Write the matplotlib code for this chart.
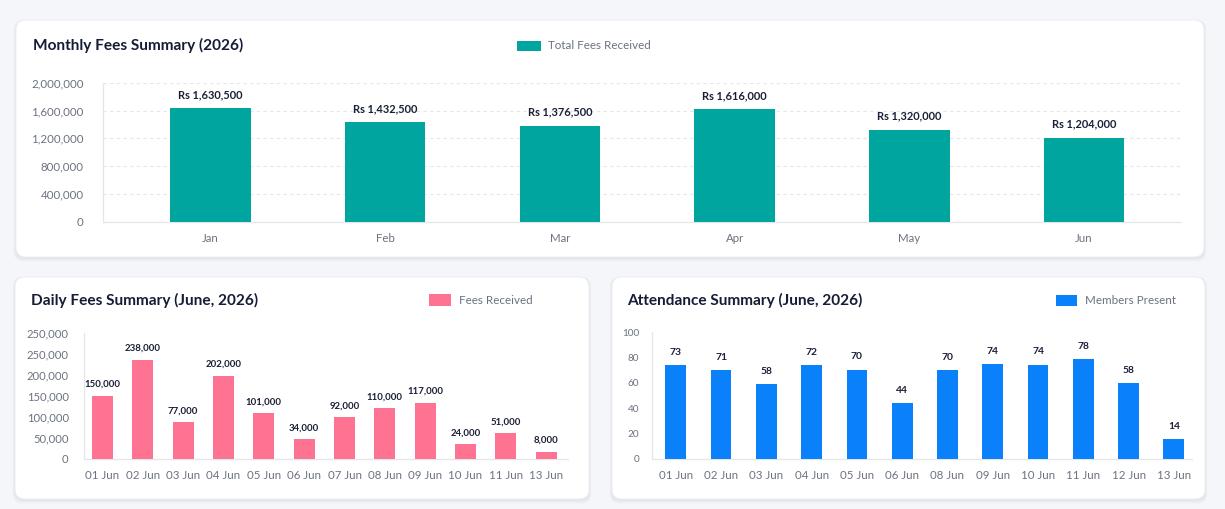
import matplotlib
matplotlib.use("Agg")
import matplotlib.pyplot as plt
from matplotlib.patches import FancyBboxPatch, Rectangle

plt.rcParams['font.family'] = ['Lato', 'DejaVu Sans']

# ---------------- data ----------------
months = ["Jan", "Feb", "Mar", "Apr", "May", "Jun"]
monthly_fees = [1630500, 1432500, 1376500, 1616000, 1320000, 1204000]
monthly_labels = ["Rs 1,630,500", "Rs 1,432,500", "Rs 1,376,500",
                  "Rs 1,616,000", "Rs 1,320,000", "Rs 1,204,000"]
monthly_ticks = [0, 400000, 800000, 1200000, 1600000, 2000000]
monthly_tick_labels = ["0", "400,000", "800,000", "1,200,000", "1,600,000", "2,000,000"]

daily_days = ["01 Jun", "02 Jun", "03 Jun", "04 Jun", "05 Jun", "06 Jun",
              "07 Jun", "08 Jun", "09 Jun", "10 Jun", "11 Jun", "13 Jun"]
daily_bar_heights = [150000, 236500, 86500, 197500, 108000, 46000,
                     98500, 120000, 133000, 34000, 61000, 16500]
daily_labels = ["150,000", "238,000", "77,000", "202,000", "101,000", "34,000",
                "92,000", "110,000", "117,000", "24,000", "51,000", "8,000"]
daily_ticks = [0, 50000, 100000, 150000, 200000, 250000, 300000]
daily_tick_labels = ["0", "50,000", "100,000", "150,000", "200,000", "250,000", "250,000"]

att_days = ["01 Jun", "02 Jun", "03 Jun", "04 Jun", "05 Jun", "06 Jun",
            "08 Jun", "09 Jun", "10 Jun", "11 Jun", "12 Jun", "13 Jun"]
att_bar_heights = [73.8, 70.2, 58.8, 73.8, 70.4, 44.1, 70.2, 74.6, 74.4, 78.6, 59.6, 15.3]
att_labels = ["73", "71", "58", "72", "70", "44", "70", "74", "74", "78", "58", "14"]
att_ticks = [0, 20, 40, 60, 80, 100]
att_tick_labels = ["0", "20", "40", "60", "80", "100"]

# ---------------- style ----------------
W, H = 1225, 509
BG = "#f4f6f9"
CARD = "#ffffff"
TEAL = "#00a5a0"
PINK = "#ff7392"
BLUE = "#0a80fa"
TITLE_C = "#161c36"
TICK_C = "#6b7280"
LABEL_C = "#1a1f36"
AXIS_C = "#e3e7ec"

fig = plt.figure(figsize=(W / 100, H / 100), dpi=100, facecolor=BG)


def fx(x):
    return x / W


def fy(y):
    return 1 - y / H


def card(x0, y0, x1, y1):
    # soft shadow
    for i, a in enumerate([0.035, 0.03, 0.025]):
        d = 1.5 + i * 1.5
        sh = FancyBboxPatch((fx(x0 - d * 0.5), fy(y1 + d)), fx(x1 - x0 + d), (y1 - y0 + d) / H,
                            boxstyle="round,pad=0,rounding_size=0.008",
                            transform=fig.transFigure, facecolor="#1f2a44", alpha=a,
                            edgecolor="none", zorder=0, mutation_aspect=W / H)
        fig.patches.append(sh)
    p = FancyBboxPatch((fx(x0), fy(y1)), fx(x1 - x0), (y1 - y0) / H,
                       boxstyle="round,pad=0,rounding_size=0.008",
                       transform=fig.transFigure, facecolor=CARD,
                       edgecolor="#eceff3", linewidth=0.8, zorder=1, mutation_aspect=W / H)
    fig.patches.append(p)


def axes_px(x0, y0, x1, y1):
    ax = fig.add_axes([fx(x0), fy(y1), fx(x1 - x0), (y1 - y0) / H])
    ax.set_zorder(5)
    return ax


def legend_px(x, y, w, h, color, text):
    fig.patches.append(Rectangle((fx(x), fy(y + h)), fx(w), h / H, transform=fig.transFigure,
                                 facecolor=color, edgecolor="none", zorder=3))
    fig.text(fx(x + w + 8), fy(y + h / 2), text, color=TICK_C, fontsize=8.4,
             va="center", ha="left", zorder=3)


def style_axes(ax):
    ax.set_facecolor("none")
    for s in ["top", "right"]:
        ax.spines[s].set_visible(False)
    for s in ["left", "bottom"]:
        ax.spines[s].set_color(AXIS_C)
        ax.spines[s].set_linewidth(0.9)
    ax.tick_params(length=0, colors=TICK_C, labelsize=8.3)


# cards
card(16, 20, 1204, 257)
card(15, 277, 589, 499)
card(612, 277, 1205, 499)

# ---------------- Monthly ----------------
fig.text(fx(33), fy(45), "Monthly Fees Summary (2026)", color=TITLE_C, fontsize=11.1,
         fontweight="bold", va="center", ha="left")
legend_px(517, 40.5, 23.5, 10.5, TEAL, "Total Fees Received")

ax1 = axes_px(103, 82.7, 1180.7, 222)
style_axes(ax1)
bars1 = ax1.bar(range(len(months)), monthly_fees, width=0.46, color=TEAL, zorder=3)
ax1.set_xlim(-0.615, 5.553)
ax1.set_ylim(0, 2000000)
ax1.set_yticks(monthly_ticks)
ax1.set_yticklabels(monthly_tick_labels)
ax1.set_xticks(range(len(months)))
ax1.set_xticklabels(months)
ax1.tick_params(axis="y", pad=14)
ax1.tick_params(axis="x", pad=8)
ax1.grid(axis="y", color=AXIS_C, linestyle=(0, (3, 3)), linewidth=0.8, zorder=0)
ax1.bar_label(bars1, labels=monthly_labels, padding=6, fontsize=7.9, fontweight="bold",
              color=LABEL_C)

# ---------------- Daily ----------------
fig.text(fx(31), fy(300.5), "Daily Fees Summary (June, 2026)", color=TITLE_C, fontsize=11.1,
         fontweight="bold", va="center", ha="left")
legend_px(429, 294.3, 22, 11.4, PINK, "Fees Received")

ax2 = axes_px(84, 333, 568, 458.7)
style_axes(ax2)
bars2 = ax2.bar(range(len(daily_days)), daily_bar_heights, width=0.52, color=PINK, zorder=3)
ax2.set_xlim(-0.46, 11.54)
ax2.set_ylim(0, 300000)
ax2.set_yticks(daily_ticks)
ax2.set_yticklabels(daily_tick_labels)
ax2.set_xticks(range(len(daily_days)))
ax2.set_xticklabels(daily_days)
ax2.tick_params(axis="y", pad=11, labelsize=8.1)
ax2.tick_params(axis="x", pad=8, labelsize=8.3)
ax2.bar_label(bars2, labels=daily_labels, padding=5, fontsize=6.9, fontweight="bold",
              color=LABEL_C)

# ---------------- Attendance ----------------
fig.text(fx(627), fy(300.5), "Attendance Summary (June, 2026)", color=TITLE_C, fontsize=11.1,
         fontweight="bold", va="center", ha="left")
legend_px(1056, 295, 20.7, 11, BLUE, "Members Present")

ax3 = axes_px(651.8, 332.3, 1192, 458.7)
style_axes(ax3)
bars3 = ax3.bar(range(len(att_days)), att_bar_heights, width=0.46, color=BLUE, zorder=3)
ax3.set_xlim(-0.53, 11.4)
ax3.set_ylim(0, 100)
ax3.set_yticks(att_ticks)
ax3.set_yticklabels(att_tick_labels)
ax3.set_xticks(range(len(att_days)))
ax3.set_xticklabels(att_days)
ax3.tick_params(axis="y", pad=9, labelsize=7.2)
ax3.tick_params(axis="x", pad=8, labelsize=8.3)
ax3.bar_label(bars3, labels=att_labels, padding=6, fontsize=7.4, fontweight="bold",
              color=LABEL_C)

fig.savefig("out.png", dpi=100, facecolor=BG)
